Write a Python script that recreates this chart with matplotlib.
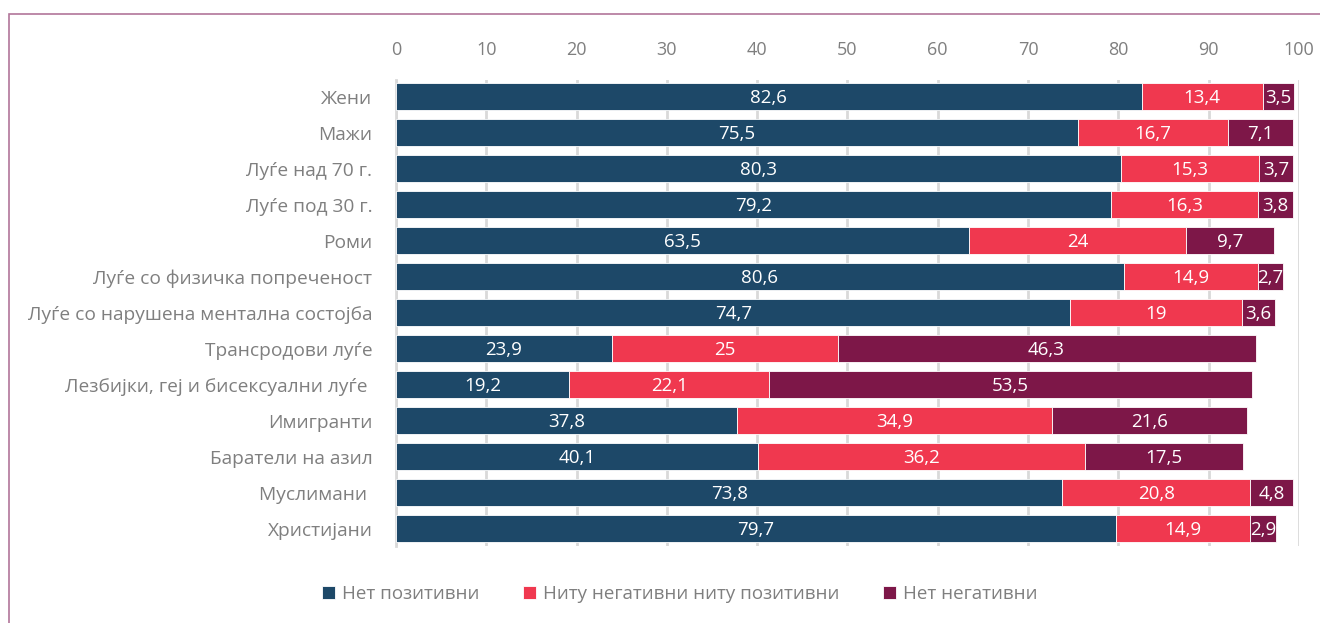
import numpy as np
import matplotlib
matplotlib.use('Agg')
import matplotlib.pyplot as plt
from matplotlib.patches import Rectangle

plt.rcParams['font.family'] = ['Open Sans', 'DejaVu Sans']

categories = ['Жени', 'Мажи', 'Луѓе над 70 г.', 'Луѓе под 30 г.', 'Роми',
              'Луѓе со физичка попреченост', 'Луѓе со нарушена ментална состојба',
              'Трансродови луѓе', 'Лезбијки, геј и бисексуални луѓе ',
              'Имигранти', 'Баратели на азил', 'Муслимани ', 'Христијани']
positive = [82.6, 75.5, 80.3, 79.2, 63.5, 80.6, 74.7, 23.9, 19.2, 37.8, 40.1, 73.8, 79.7]
neutral = [13.4, 16.7, 15.3, 16.3, 24, 14.9, 19, 25, 22.1, 34.9, 36.2, 20.8, 14.9]
negative = [3.5, 7.1, 3.7, 3.8, 9.7, 2.7, 3.6, 46.3, 53.5, 21.6, 17.5, 4.8, 2.9]
series_names = ['Нет позитивни', 'Ниту негативни ниту позитивни', 'Нет негативни']
colors = ['#1d4868', '#f0384f', '#7d1748']
gray = '#7f7f7f'

fig = plt.figure(figsize=(13.2, 6.23), dpi=100)
ax = fig.add_axes([0.3, 0.124, 0.684, 0.748])

# frame around the chart
fig.patches.append(Rectangle((0.0068, -0.05), 1.1, 1.028, transform=fig.transFigure,
                             fill=False, edgecolor='#b2769a', linewidth=1.2))

y = np.arange(len(categories))
left = np.zeros(len(categories))
for vals, name, col in zip([positive, neutral, negative], series_names, colors):
    vals = np.array(vals, dtype=float)
    ax.barh(y, vals, left=left, height=0.75, color=col, edgecolor='white',
            linewidth=0.6, label=name, zorder=3)
    for yi, l, v in zip(y, left, vals):
        txt = f'{v:g}'.replace('.', ',')
        ax.text(l + v / 2, yi + 0.03, txt, ha='center', va='center', color='white',
                fontsize=13.5, zorder=4)
    left += vals

ax.set_xlim(0, 100)
ax.set_ylim(len(categories) - 0.53, -0.47)
ax.set_xticks(np.arange(0, 101, 10))
ax.xaxis.tick_top()
ax.tick_params(axis='x', length=0, pad=15, labelsize=13, labelcolor=gray)
ax.set_yticks(y)
ax.set_yticklabels(categories)
ax.tick_params(axis='y', length=0, pad=17, labelsize=13.8, labelcolor=gray)
ax.grid(True, axis='x', color='#d9d9d9', linewidth=2, zorder=0)
for s in ['top', 'right', 'bottom']:
    ax.spines[s].set_visible(False)
ax.spines['left'].set_color('#d9d9d9')
ax.spines['left'].set_linewidth(2)

leg = fig.legend(loc='center', bbox_to_anchor=(0.515, 0.047), ncol=3, frameon=False,
                 fontsize=13.5, handlelength=0.7, handleheight=0.7, handletextpad=0.4,
                 columnspacing=2.3)
for t in leg.get_texts():
    t.set_color(gray)

fig.savefig('out.png', dpi=100)
